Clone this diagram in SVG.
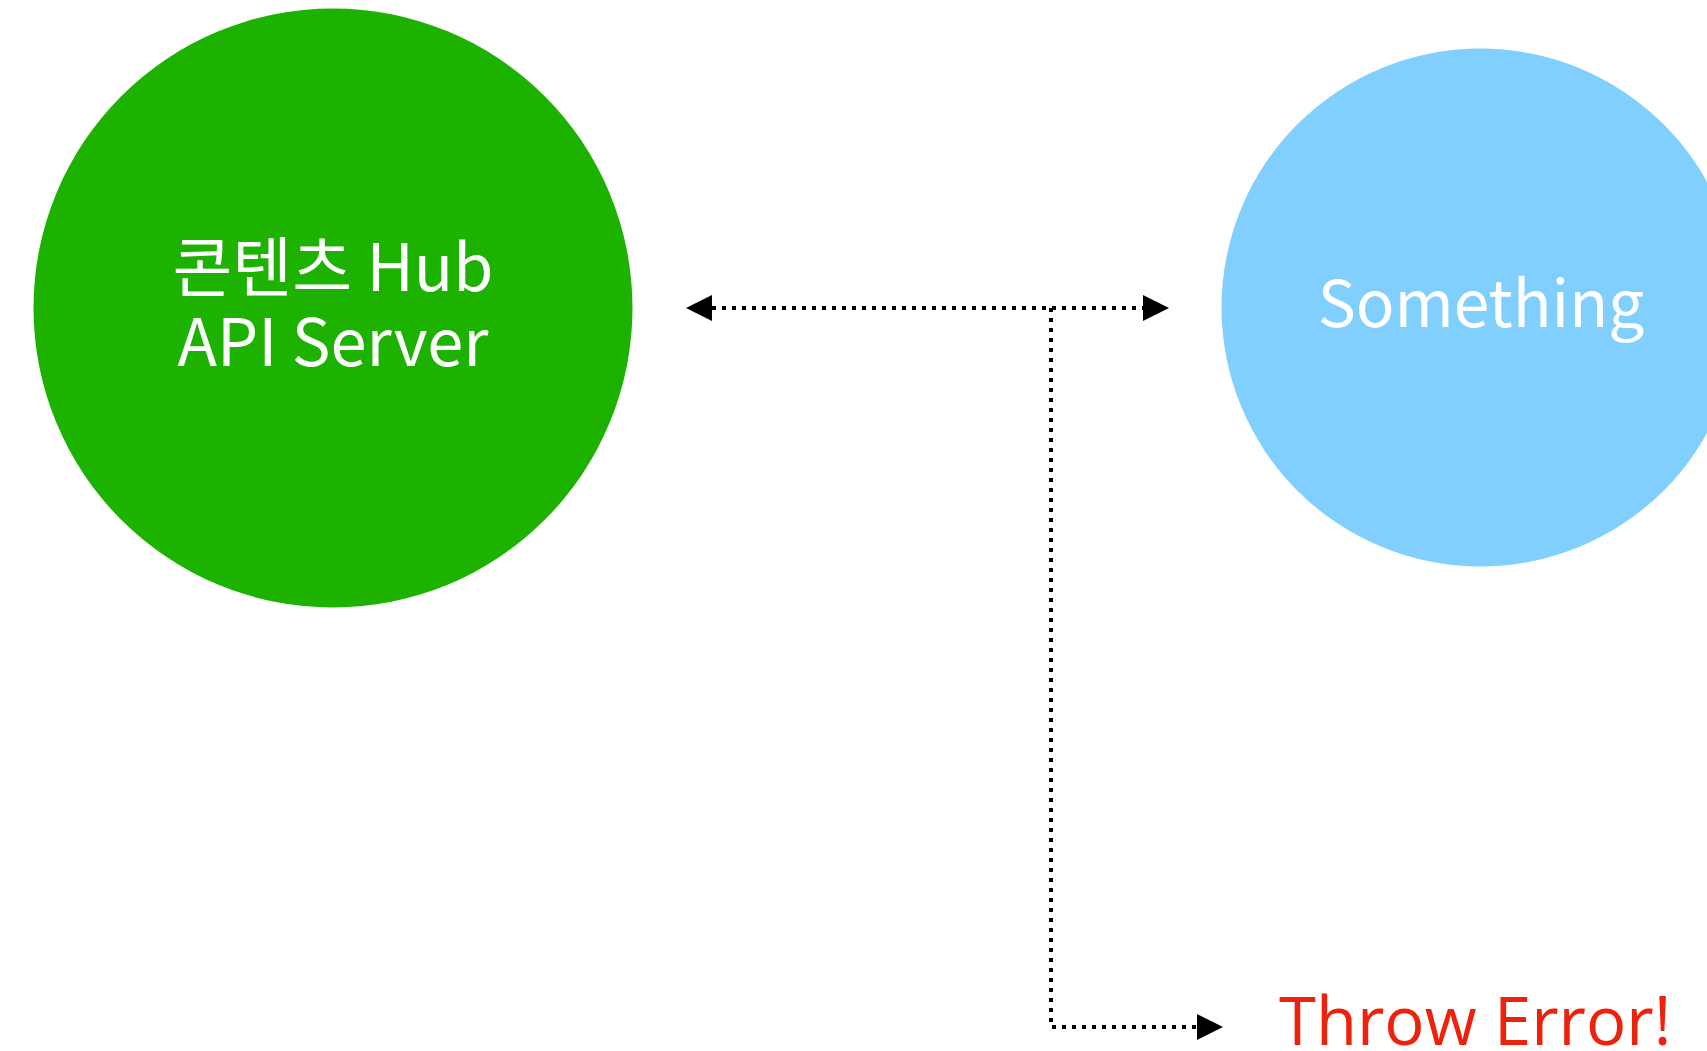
<svg xmlns="http://www.w3.org/2000/svg" width="1707" height="1051" viewBox="0 0 1707 1051">
  <defs>
    <style>
      .label { fill: #ffffff; font-family: "Noto Sans CJK KR", "Noto Sans", sans-serif; text-anchor: middle; }
      .link { fill: none; stroke: #000000; stroke-width: 4; stroke-dasharray: 4 6; }
      .error { fill: #ee220c; font-family: "Open Sans", "Noto Sans", sans-serif; font-size: 67px; }
    </style>
    <marker id="arrow" viewBox="0 0 26 26" refX="0" refY="13" markerWidth="26" markerHeight="26" markerUnits="userSpaceOnUse" orient="auto-start-reverse">
      <polygon points="0,0 26,13 0,26" fill="#000000"/>
    </marker>
  </defs>
  <rect width="1707" height="1051" fill="#ffffff"/>

  <g id="hub-api-server">
    <circle cx="333" cy="308" r="299.5" fill="#1db100"/>
    <text class="label" font-size="65"><tspan x="333" y="291">콘텐츠 Hub</tspan><tspan x="333" y="366">API Server</tspan></text>
  </g>

  <g id="something">
    <circle cx="1480.5" cy="307.5" r="259" fill="#81cfff"/>
    <text class="label" font-size="64" x="1481" y="327">Something</text>
  </g>

  <g id="throw-error">
    <text class="error" x="1279" y="1045">Throw Error!</text>
  </g>

  <g id="connectors">
    <line class="link" x1="712" y1="308" x2="1143" y2="308" marker-start="url(#arrow)" marker-end="url(#arrow)"/>
    <polyline class="link" points="1051,308 1051,1027 1197,1027" marker-end="url(#arrow)"/>
  </g>
</svg>
